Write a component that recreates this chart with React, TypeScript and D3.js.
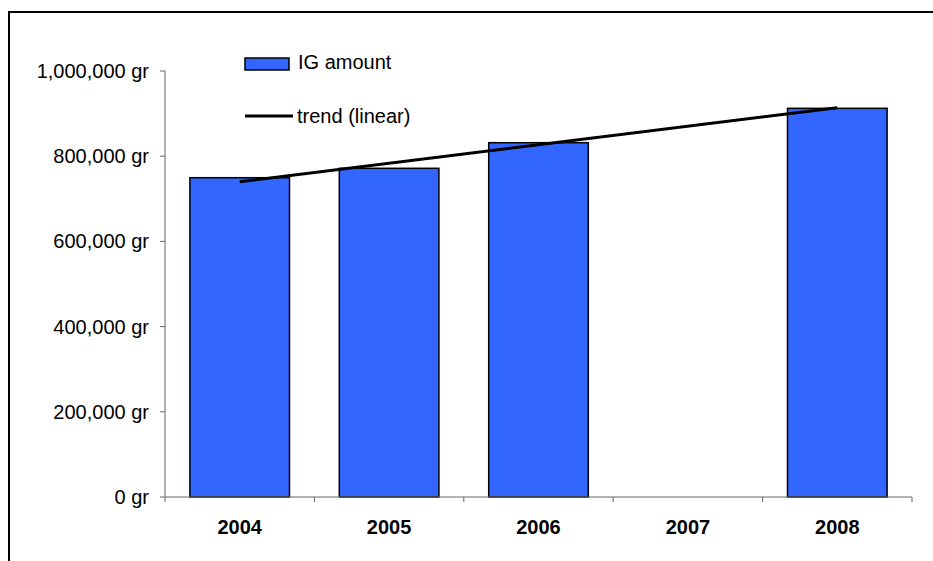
import React from "react";
import * as d3 from "d3";

// Yearly IG amounts (grams); 2007 has no reported value
const years = ["2004", "2005", "2006", "2007", "2008"];
const amounts: (number | null)[] = [749500, 771600, 831700, null, 912400];
// Linear trend line, value at its first and last year
const trendYears = ["2004", "2008"];
const trendValues = [740000, 913800];
const yTicks = [0, 200000, 400000, 600000, 800000, 1000000];
const legendLabels = ["IG amount", "trend (linear)"];

const W = 933;
const H = 561;
const plot = { left: 165, right: 912, top: 71, bottom: 497 };
const BLUE = "#3366FF";
const FONT = "'Liberation Sans', Arial, sans-serif";

export default function App() {
  const x = d3
    .scaleBand<string>()
    .domain(years)
    .range([plot.left, plot.right])
    .paddingInner(0.5 / 1.5)
    .paddingOuter(0.25 / 1.5);
  // category slots (tick boundaries) without padding
  const slot = d3.scaleBand<string>().domain(years).range([plot.left, plot.right]);
  const y = d3.scaleLinear().domain([0, 1000000]).range([plot.bottom, plot.top]);
  const fmt = d3.format(",");

  const trendLine = d3
    .line<number>()
    .x((_, i) => (slot(trendYears[i]) as number) + slot.bandwidth() / 2)
    .y((v) => y(v));

  const boundaries = years.map((yr) => slot(yr) as number).concat([plot.right]);

  return (
    <svg
      width={W}
      height={H}
      style={{ position: "absolute", left: 0, top: 0, background: "#fff" }}
      fontFamily={FONT}
    >
      <rect x={0} y={0} width={W} height={H} fill="#fff" />
      {/* outer frame */}
      <path d={`M9,${H + 5} V12 H${W + 5}`} fill="none" stroke="#000" strokeWidth={2} />

      {/* bars */}
      {years.map((yr, i) => {
        const v = amounts[i];
        if (v == null) return null;
        return (
          <rect
            key={yr}
            x={x(yr)}
            y={y(v)}
            width={x.bandwidth()}
            height={y(0) - y(v)}
            fill={BLUE}
            stroke="#000"
            strokeWidth={1.5}
          />
        );
      })}

      {/* y axis */}
      <line x1={plot.left} x2={plot.left} y1={plot.top} y2={plot.bottom} stroke="#666" strokeWidth={1} />
      {yTicks.map((t) => (
        <g key={t}>
          <line x1={plot.left - 5} x2={plot.left} y1={y(t)} y2={y(t)} stroke="#666" strokeWidth={1} />
          <text x={149} y={y(t) + 7} textAnchor="end" fontSize={20} fill="#000">
            {fmt(t)} gr
          </text>
        </g>
      ))}

      {/* x axis */}
      <line x1={plot.left} x2={plot.right} y1={plot.bottom} y2={plot.bottom} stroke="#666" strokeWidth={1} />
      {boundaries.map((bx, i) => (
        <line key={i} x1={bx} x2={bx} y1={plot.bottom} y2={plot.bottom + 5} stroke="#666" strokeWidth={1} />
      ))}
      {years.map((yr) => (
        <text
          key={yr}
          x={(slot(yr) as number) + slot.bandwidth() / 2}
          y={534}
          textAnchor="middle"
          fontSize={20}
          fontWeight="bold"
          fill="#000"
        >
          {yr}
        </text>
      ))}

      {/* trend */}
      <path d={trendLine(trendValues) || ""} fill="none" stroke="#000" strokeWidth={3} />

      {/* legend */}
      <rect x={245} y={58} width={44} height={12} fill={BLUE} stroke="#000" strokeWidth={1.5} />
      <text x={298} y={69} fontSize={20} fill="#000">
        {legendLabels[0]}
      </text>
      <line x1={245} x2={293} y1={116} y2={116} stroke="#000" strokeWidth={3} />
      <text x={297} y={123} fontSize={20} fill="#000">
        {legendLabels[1]}
      </text>
    </svg>
  );
}
